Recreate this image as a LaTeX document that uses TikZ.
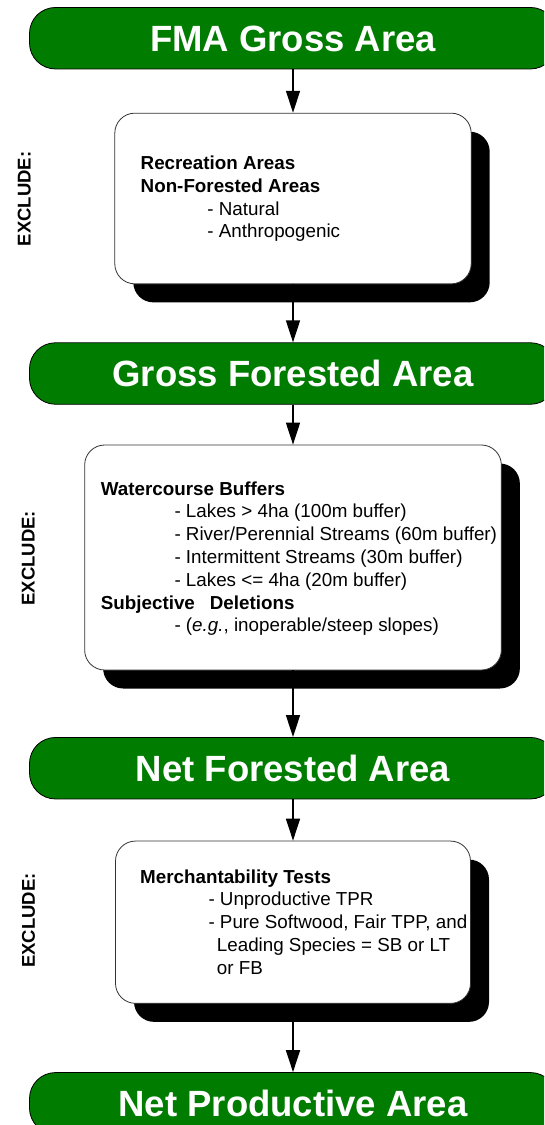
\documentclass[tikz,border=0pt]{standalone}
\usepackage{fontspec}
\setmainfont{Liberation Sans}
\usetikzlibrary{arrows.meta,shadows}
\definecolor{bannergreen}{RGB}{0,125,0}
\begin{document}
\begin{tikzpicture}[x=1pt,y=-1pt,
  banner/.style={draw=black, line width=0.8pt, fill=bannergreen, rounded corners=26pt,
    minimum width=527pt, minimum height=61.5pt, inner sep=0pt, text=white,
    text height=26pt, text depth=0pt, font=\fontsize{36.5}{40}\selectfont\bfseries},
  listbox/.style={draw=black!80, line width=0.8pt, fill=white, rounded corners=20pt, inner sep=0pt,
    drop shadow={shadow xshift=18.5pt, shadow yshift=-18.5pt, opacity=1, fill=black}},
  listtext/.style={anchor=base west, inner sep=0pt, font=\fontsize{18.8}{22.8}\selectfont},
  sidelabel/.style={rotate=90, inner sep=0pt, font=\fontsize{18.5}{22}\selectfont\bfseries},
  flow/.style={line width=1.4pt, -{Triangle[length=22pt,width=14pt]}}
]
\path[use as bounding box] (0,0) rectangle (544,1125);
\clip (0,0) rectangle (544,1125);

% stages of the area netdown
\node[banner] (b1) at (293,38.2)   {FMA Gross Area};
\node[banner] (b2) at (293,373.5)  {Gross Forested Area};
\node[banner] (b3) at (293,768.2)  {Net Forested Area};
\node[banner] (b4) at (293,1103.3) {Net Productive Area};

% exclusion boxes
\node[listbox, minimum width=356.4pt, minimum height=170.7pt] (x1) at (293,198.5) {};
\node[listbox, minimum width=416.7pt, minimum height=225pt]   (x2) at (293,557.5) {};
\node[listbox, minimum width=355pt,   minimum height=162.3pt] (x3) at (293,922.2) {};

\node[listtext] (t1) at (140.5,169.5) {\begin{tabular}[t]{@{}l@{}}
  \bfseries Recreation Areas\\
  \bfseries Non-Forested Areas\\
  \hspace*{66.7pt}- Natural\\
  \hspace*{66.7pt}- Anthropogenic
\end{tabular}};

\node[listtext] (t2) at (100.7,495) {\begin{tabular}[t]{@{}l@{}}
  \bfseries Watercourse Buffers\\
  \hspace*{73.6pt}- Lakes > 4ha (100m buffer)\\
  \hspace*{73.6pt}- River/Perennial Streams (60m buffer)\\
  \hspace*{73.6pt}- Intermittent Streams (30m buffer)\\
  \hspace*{73.6pt}- Lakes <= 4ha (20m buffer)\\
  \bfseries Subjective\hspace{15pt}Deletions\\
  \hspace*{73.6pt}- (\textit{e.g.}, inoperable/steep slopes)
\end{tabular}};

\node[listtext] (t3) at (140,883) {\begin{tabular}[t]{@{}l@{}}
  \bfseries Merchantability Tests\\
  \hspace*{68.3pt}- Unproductive TPR\\
  \hspace*{68.3pt}- Pure Softwood, Fair TPP, and\\
  \hspace*{76.7pt}Leading Species = SB or LT\\
  \hspace*{76.7pt}or FB
\end{tabular}};

% side labels
\node[sidelabel] (e1) at (24.3,199)   {EXCLUDE:};
\node[sidelabel] (e2) at (28.3,558.3) {EXCLUDE:};
\node[sidelabel] (e3) at (28.5,920.5) {EXCLUDE:};

% flow arrows
\draw[flow] (b1.south) -- (x1.north);
\draw[flow] (x1.south) -- (b2.north);
\draw[flow] (b2.south) -- (x2.north);
\draw[flow] (x2.south) -- (b3.north);
\draw[flow] (b3.south) -- (x3.north);
\draw[flow] (x3.south) -- (b4.north);
\end{tikzpicture}
\end{document}
